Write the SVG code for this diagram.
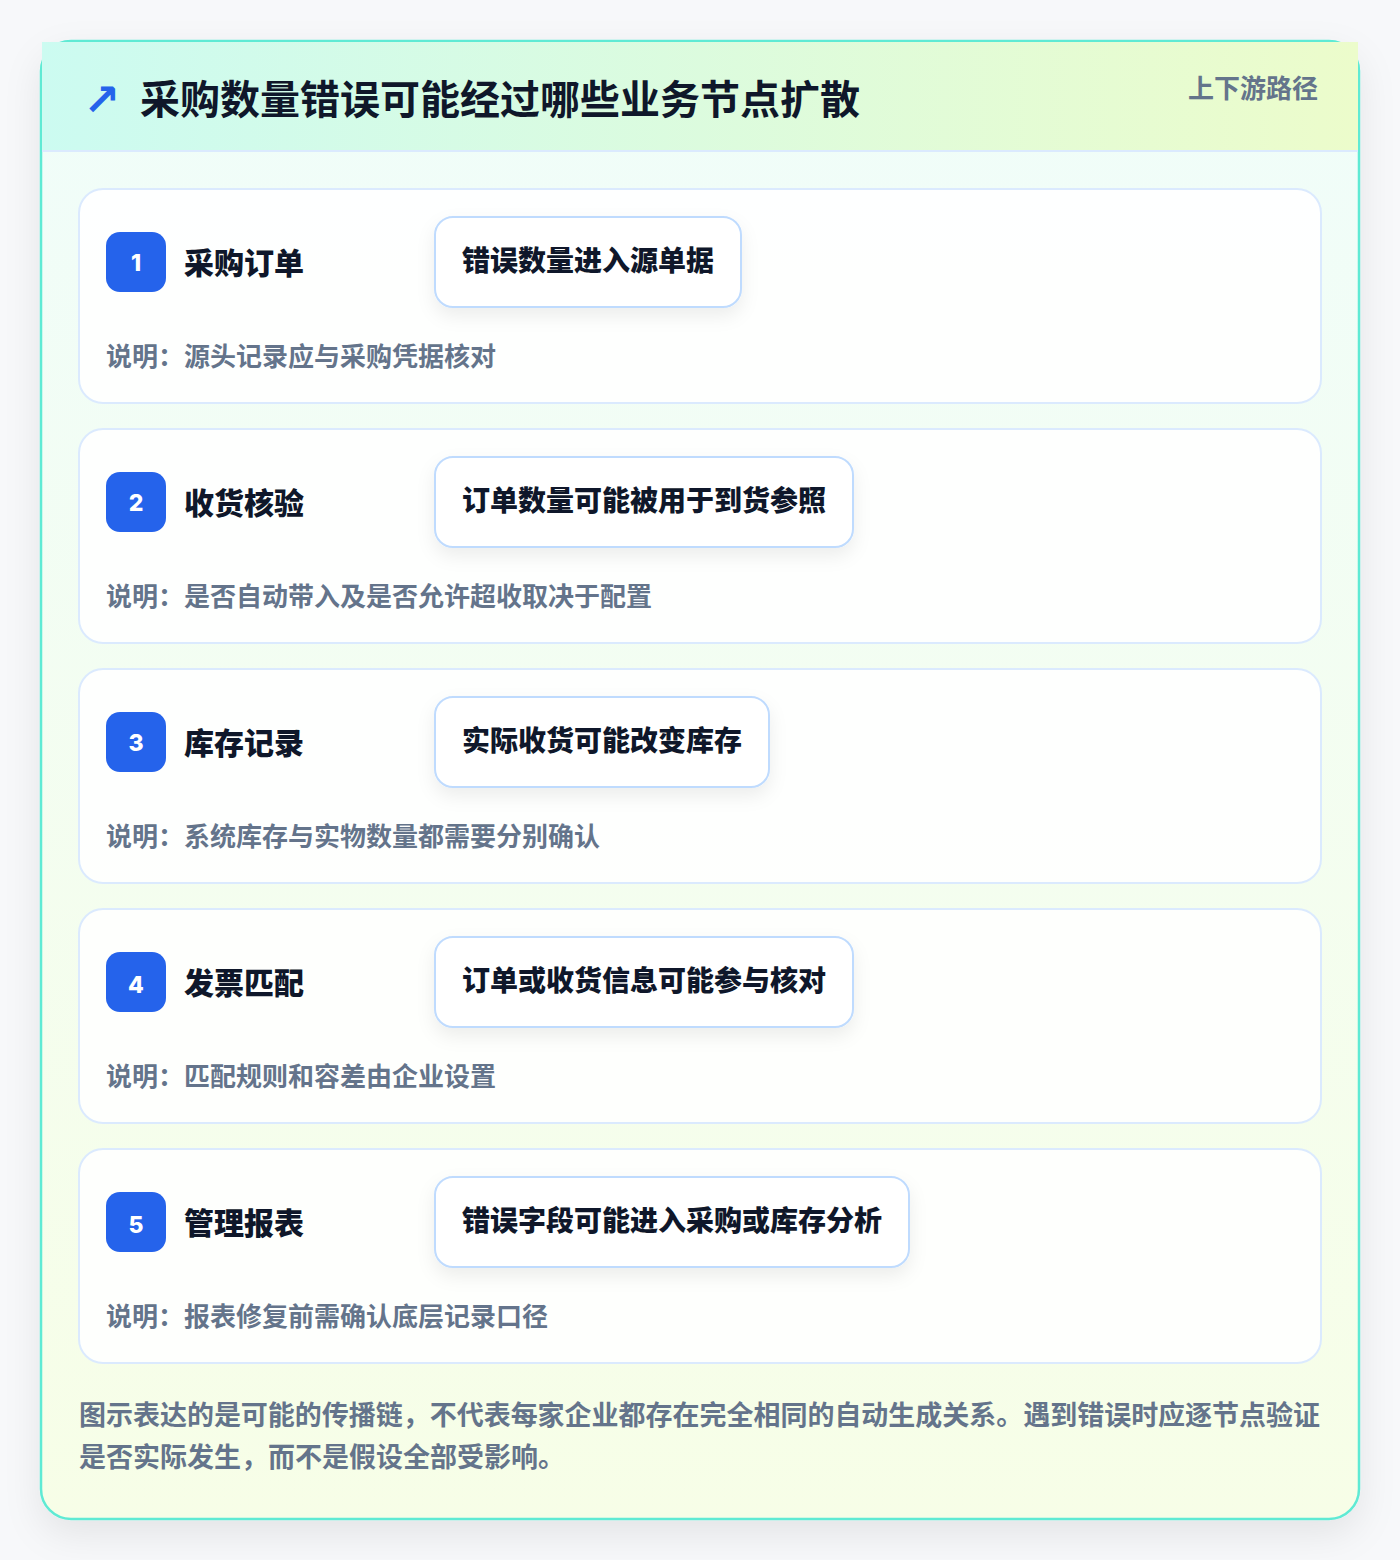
<svg xmlns="http://www.w3.org/2000/svg" width="1400" height="1560" viewBox="0 0 1400 1560">
<defs>
<linearGradient id="hdr" x1="0" y1="0" x2="1" y2="0">
<stop offset="0" stop-color="#ccfbf1"/>
<stop offset="1" stop-color="#ecfccb"/>
</linearGradient>
<linearGradient id="body" x1="0" y1="0" x2="0" y2="1">
<stop offset="0" stop-color="#f0fdfa"/>
<stop offset="1" stop-color="#f7fee7"/>
</linearGradient>
<filter id="outerShadow" x="-10%" y="-10%" width="120%" height="120%">
<feDropShadow dx="0" dy="14" stdDeviation="18" flood-color="#0f172a" flood-opacity="0.08"/>
</filter>
<filter id="pillShadow" x="-20%" y="-30%" width="140%" height="180%">
<feDropShadow dx="0" dy="8" stdDeviation="9" flood-color="#0f172a" flood-opacity="0.07"/>
</filter>
<style>
.cjk{font-family:"Noto Sans CJK SC","Noto Sans",sans-serif;font-weight:700}
.card{fill:#ffffff;fill-opacity:0.88;stroke:#dbeafe;stroke-width:2}
.badge{fill:#2563eb}
.num{font-family:Inter,"Liberation Sans",sans-serif;font-weight:800;font-size:23px;fill:#ffffff}
.title{font-size:30px;font-weight:800;fill:#0f172a}
.pill{fill:#ffffff;stroke:#bfdbfe;stroke-width:2}
.pilltext{font-size:28px;font-weight:800;fill:#0f172a}
.desc{font-size:26px;fill:#64748b}
.foot{font-size:27px;fill:#64748b}
</style>
</defs>
<rect x="0" y="0" width="1400" height="1560" fill="#f7f8fa"/>
<g id="frame">
<rect x="41" y="41" width="1318" height="1478" rx="30" fill="url(#body)" stroke="#5eead4" stroke-width="2.5" filter="url(#outerShadow)"/>
<rect x="42" y="42" width="1316" height="109" fill="url(#hdr)"/>
<line x1="42" y1="151" x2="1358" y2="151" stroke="#dbeafe" stroke-width="2"/>
<text x="102" y="115" text-anchor="middle" font-family="'DejaVu Sans',sans-serif" font-size="44" font-weight="700" fill="#2563eb">↗</text>
<text class="cjk" x="140" y="114" font-size="40" font-weight="800" fill="#0f172a">采购数量错误可能经过哪些业务节点扩散</text>
<text class="cjk" x="1318" y="98" font-size="26" fill="#64748b" text-anchor="end">上下游路径</text>
</g>
<g id="node1">
<rect class="card" x="79" y="189" width="1242" height="214" rx="24"/>
<rect class="badge" x="106" y="232" width="60" height="60" rx="14"/>
<text class="num" x="136" y="271" text-anchor="middle">1</text>
<text class="cjk title" x="184" y="274">采购订单</text>
<rect class="pill" x="435" y="217" width="306" height="90" rx="18" filter="url(#pillShadow)"/>
<text class="cjk pilltext" x="462" y="271">错误数量进入源单据</text>
<text class="cjk desc" x="106" y="366">说明：源头记录应与采购凭据核对</text>
</g>
<g id="node2">
<rect class="card" x="79" y="429" width="1242" height="214" rx="24"/>
<rect class="badge" x="106" y="472" width="60" height="60" rx="14"/>
<text class="num" x="136" y="511" text-anchor="middle">2</text>
<text class="cjk title" x="184" y="514">收货核验</text>
<rect class="pill" x="435" y="457" width="418" height="90" rx="18" filter="url(#pillShadow)"/>
<text class="cjk pilltext" x="462" y="511">订单数量可能被用于到货参照</text>
<text class="cjk desc" x="106" y="606">说明：是否自动带入及是否允许超收取决于配置</text>
</g>
<g id="node3">
<rect class="card" x="79" y="669" width="1242" height="214" rx="24"/>
<rect class="badge" x="106" y="712" width="60" height="60" rx="14"/>
<text class="num" x="136" y="751" text-anchor="middle">3</text>
<text class="cjk title" x="184" y="754">库存记录</text>
<rect class="pill" x="435" y="697" width="334" height="90" rx="18" filter="url(#pillShadow)"/>
<text class="cjk pilltext" x="462" y="751">实际收货可能改变库存</text>
<text class="cjk desc" x="106" y="846">说明：系统库存与实物数量都需要分别确认</text>
</g>
<g id="node4">
<rect class="card" x="79" y="909" width="1242" height="214" rx="24"/>
<rect class="badge" x="106" y="952" width="60" height="60" rx="14"/>
<text class="num" x="136" y="993" text-anchor="middle">4</text>
<text class="cjk title" x="184" y="994">发票匹配</text>
<rect class="pill" x="435" y="937" width="418" height="90" rx="18" filter="url(#pillShadow)"/>
<text class="cjk pilltext" x="462" y="991">订单或收货信息可能参与核对</text>
<text class="cjk desc" x="106" y="1086">说明：匹配规则和容差由企业设置</text>
</g>
<g id="node5">
<rect class="card" x="79" y="1149" width="1242" height="214" rx="24"/>
<rect class="badge" x="106" y="1192" width="60" height="60" rx="14"/>
<text class="num" x="136" y="1233" text-anchor="middle">5</text>
<text class="cjk title" x="184" y="1234">管理报表</text>
<rect class="pill" x="435" y="1177" width="474" height="90" rx="18" filter="url(#pillShadow)"/>
<text class="cjk pilltext" x="462" y="1231">错误字段可能进入采购或库存分析</text>
<text class="cjk desc" x="106" y="1326">说明：报表修复前需确认底层记录口径</text>
</g>
<g id="connectors"></g>
<g id="footer">
<text class="cjk foot" x="79" y="1425" textLength="1241" lengthAdjust="spacing">图示表达的是可能的传播链，不代表每家企业都存在完全相同的自动生成关系。遇到错误时应逐节点验证</text>
<text class="cjk foot" x="79" y="1467">是否实际发生，而不是假设全部受影响。</text>
</g>
</svg>
